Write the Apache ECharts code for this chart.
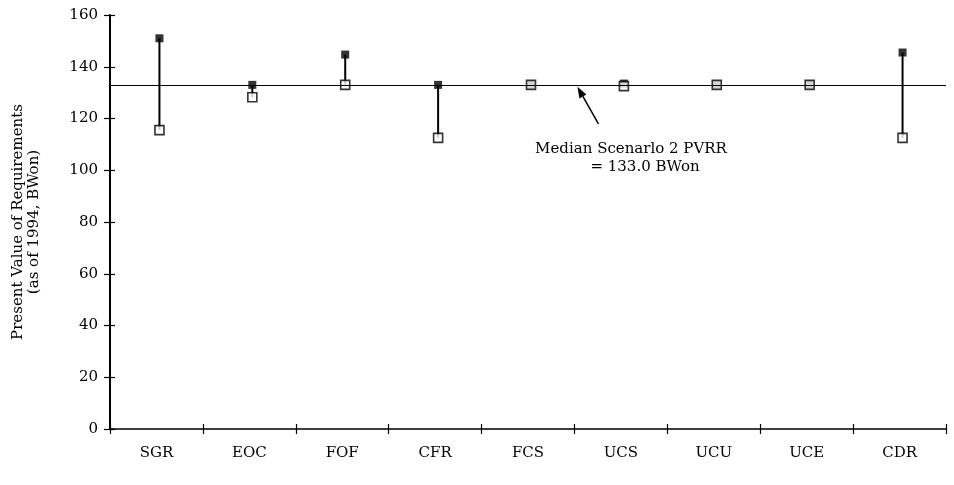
<!DOCTYPE html>
<html>
<head>
<meta charset="utf-8">
<script src="https://cdn.jsdelivr.net/npm/echarts@6/dist/echarts.min.js"></script>
<style>html,body{margin:0;padding:0;background:#fff;}#c{width:954px;height:485px;}</style>
</head>
<body>
<div id="c"></div>
<script>
var categories = ['SGR','EOC','FOF','CFR','FCS','UCS','UCU','UCE','CDR'];
var highValues = [151, 133, 144.7, 133, 133, 133.5, 133, 133, 145.5];
var lowValues  = [115.5, 128.2, 133, 112.5, 133, 132.5, 133, 133, 112.5];
var medianValue = 133;
var yTicks = [0, 20, 40, 60, 80, 100, 120, 140, 160];
var annotationLines = ['Median Scenarlo 2 PVRR', '= 133.0 BWon'];

var FONT = '"DejaVu Serif", "Liberation Serif", serif';
var chart = echarts.init(document.getElementById('c'), null, {renderer: 'canvas'});

var rangeData = categories.map(function (c, i) { return [i, lowValues[i], highValues[i]]; });

var option = {
  animation: false,
  backgroundColor: '#fff',
  grid: {left: 110, right: 8, top: 15, bottom: 56, containLabel: false},
  xAxis: [{
    type: 'category',
    data: categories,
    boundaryGap: true,
    axisLine: {lineStyle: {color: '#000', width: 1.5}},
    axisTick: {show: true, length: 5, inside: false, lineStyle: {color: '#000', width: 1.2}},
    axisLabel: {color: '#000', fontFamily: FONT, fontSize: 15, margin: 17}
  }, {
    type: 'category',
    data: categories,
    position: 'bottom',
    boundaryGap: true,
    axisLine: {show: false},
    axisTick: {show: true, length: 5, inside: true, lineStyle: {color: '#000', width: 1.2}},
    axisLabel: {show: false}
  }],
  yAxis: [{
    type: 'value',
    min: yTicks[0], max: yTicks[yTicks.length - 1], interval: 20,
    name: 'Present Value of Requirements\n(as of 1994, BWon)',
    nameLocation: 'middle',
    nameGap: 68,
    nameRotate: 90,
    nameTextStyle: {color: '#000', fontFamily: FONT, fontSize: 15, lineHeight: 16},
    axisLine: {show: true, lineStyle: {color: '#000', width: 2}},
    axisTick: {show: true, length: 6, lineStyle: {color: '#000', width: 1.2}},
    axisLabel: {color: '#000', fontFamily: FONT, fontSize: 15, margin: 12},
    splitLine: {show: false}
  }, {
    type: 'value',
    position: 'left',
    min: yTicks[0], max: yTicks[yTicks.length - 1], interval: 20,
    axisLine: {show: false},
    axisTick: {show: true, inside: true, length: 5, lineStyle: {color: '#000', width: 1.2}},
    axisLabel: {show: false},
    splitLine: {show: false}
  }],
  series: [
    {
      type: 'custom',
      name: 'range',
      data: rangeData,
      z: 2,
      renderItem: function (params, api) {
        var x = api.value(0);
        var p1 = api.coord([x, api.value(1)]);
        var p2 = api.coord([x, api.value(2)]);
        return {type: 'line', shape: {x1: p1[0] + 3, y1: p1[1], x2: p2[0] + 3, y2: p2[1]},
                style: {stroke: '#000', lineWidth: 2}};
      },
      markLine: {
        silent: true,
        symbol: 'none',
        label: {show: false},
        lineStyle: {color: '#000', width: 1.2, type: 'solid'},
        data: [{yAxis: medianValue}]
      }
    },
    {
      type: 'scatter',
      name: 'high',
      data: highValues,
      symbol: 'rect',
      symbolSize: 8,
      symbolOffset: [3, 0],
      z: 3,
      itemStyle: {color: '#000'}
    },
    {
      type: 'scatter',
      name: 'low',
      data: lowValues,
      symbol: 'rect',
      symbolSize: 9,
      symbolOffset: [3, 0],
      z: 4,
      itemStyle: {color: '#fff', borderColor: '#000', borderWidth: 1.6}
    }
  ]
};
chart.setOption(option);

// annotation anchored at the median line at the boundary between FCS and UCS
var pA = chart.convertToPixel({xAxisIndex: 0, yAxisIndex: 0}, [4, medianValue]);
var pB = chart.convertToPixel({xAxisIndex: 0, yAxisIndex: 0}, [5, medianValue]);
var tipX = (pA[0] + pB[0]) / 2 + 3, tipY = pA[1] + 2;
var tailX = tipX + 21, tailY = tipY + 37;
var ang = Math.atan2(tipY - tailY, tipX - tailX);
var hl = 11, hw = 4;
var bx = tipX - hl * Math.cos(ang), by = tipY - hl * Math.sin(ang);
var px = -Math.sin(ang) * hw, py = Math.cos(ang) * hw;
chart.setOption({
  graphic: [
    {type: 'line', shape: {x1: tailX, y1: tailY, x2: bx, y2: by}, style: {stroke: '#000', lineWidth: 1.5}},
    {type: 'polygon', shape: {points: [[tipX, tipY], [bx + px, by + py], [bx - px, by - py]]}, style: {fill: '#000'}},
    {type: 'text', x: 631, y: 149, style: {text: annotationLines[0], fontFamily: FONT, fontSize: 15, fill: '#000', align: 'center', verticalAlign: 'middle'}},
    {type: 'text', x: 645, y: 167, style: {text: annotationLines[1], fontFamily: FONT, fontSize: 15, fill: '#000', align: 'center', verticalAlign: 'middle'}}
  ]
});
</script>
</body>
</html>
